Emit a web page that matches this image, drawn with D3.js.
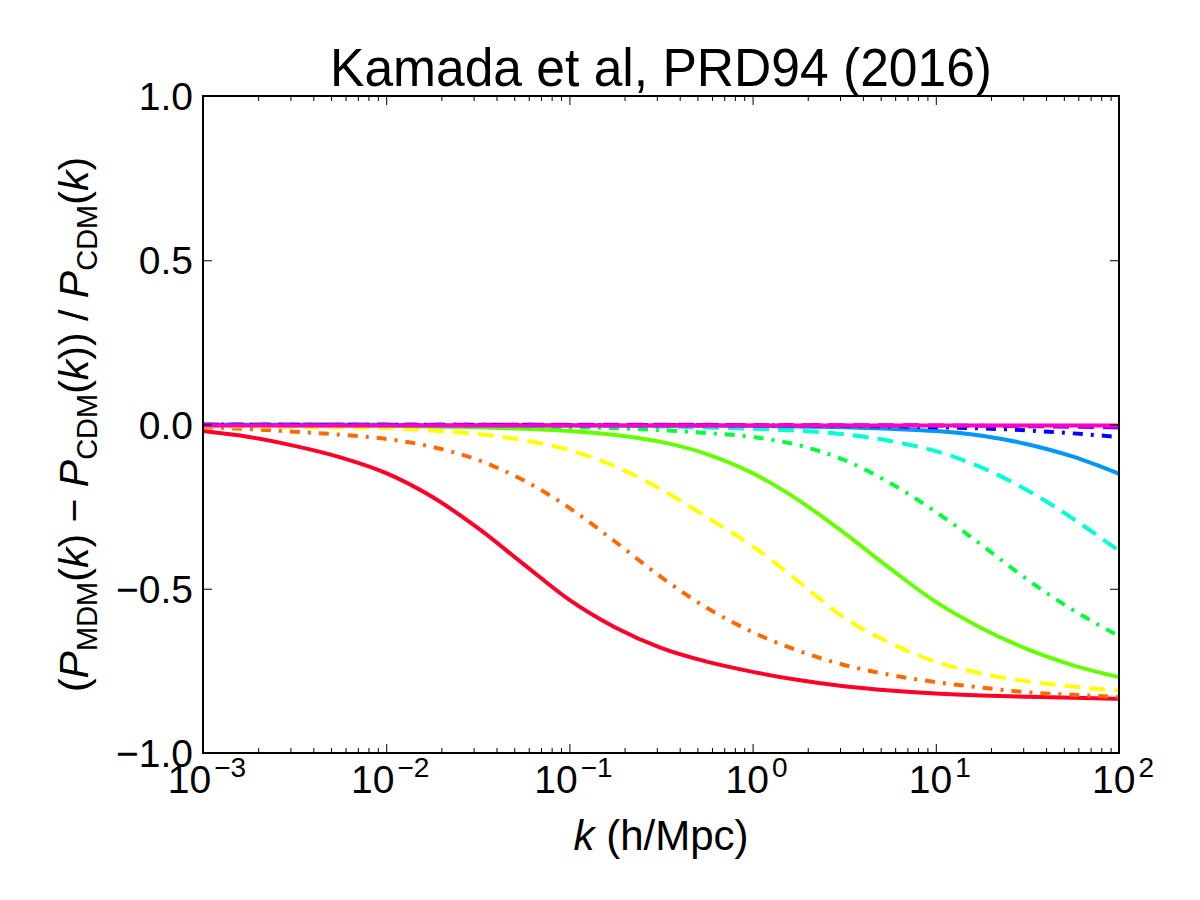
<!DOCTYPE html>
<html>
<head>
<meta charset="utf-8">
<script src="https://cdn.jsdelivr.net/npm/d3@7"></script>
<style>
  body { margin: 0; background: #fff; }
  svg text { font-family: "Liberation Sans", Arial, sans-serif; fill: #000; }
</style>
</head>
<body>
<svg id="chart" width="1200" height="900"></svg>
<script>
const svg = d3.select('#chart')

// k values (h/Mpc), quarter-decade sampling from 1e-3 to 1e2
const kValues = [0.001, 0.00178, 0.00316, 0.00562, 0.01, 0.0178, 0.0316, 0.0562, 0.1, 0.178, 0.316,
                 0.562, 1, 1.78, 3.16, 5.62, 10, 17.8, 31.6, 56.2, 100]

// relative suppression (P_MDM - P_CDM) / P_CDM
const redSolid      = [-0.020, -0.038, -0.065, -0.100, -0.148, -0.220, -0.315, -0.425, -0.534, -0.618, -0.680,
                       -0.722, -0.753, -0.778, -0.797, -0.810, -0.819, -0.825, -0.829, -0.832, -0.835]
const orangeDashDot = [-0.008, -0.014, -0.022, -0.031, -0.044, -0.068, -0.108, -0.170, -0.254, -0.357, -0.464,
                       -0.558, -0.632, -0.689, -0.732, -0.762, -0.784, -0.801, -0.815, -0.823, -0.829]
const yellowDashed  = [-0.005, -0.006, -0.008, -0.009, -0.011, -0.018, -0.029, -0.048, -0.078, -0.128, -0.197,
                       -0.282, -0.370, -0.478, -0.588, -0.665, -0.722, -0.758, -0.782, -0.798, -0.810]
const greenSolid    = [-0.002, -0.002, -0.003, -0.003, -0.004, -0.006, -0.008, -0.013, -0.020, -0.032, -0.053,
                       -0.090, -0.148, -0.230, -0.330, -0.438, -0.540, -0.620, -0.684, -0.733, -0.769]
const greenDashDot  = [-0.001, -0.001, -0.002, -0.002, -0.003, -0.003, -0.004, -0.006, -0.008, -0.011, -0.017,
                       -0.026, -0.038, -0.063, -0.108, -0.178, -0.266, -0.367, -0.472, -0.565, -0.644]
const cyanDashed    = [-0.001, -0.001, -0.001, -0.001, -0.002, -0.002, -0.002, -0.003, -0.003, -0.004, -0.006,
                       -0.009, -0.013, -0.019, -0.030, -0.050, -0.081, -0.131, -0.200, -0.287, -0.385]
const azureSolid    = [-0.001, -0.001, -0.001, -0.001, -0.001, -0.002, -0.002, -0.002, -0.002, -0.003, -0.003,
                       -0.003, -0.004, -0.006, -0.008, -0.013, -0.020, -0.034, -0.060, -0.098, -0.150]
const blueDashDot   = [-0.001, -0.001, -0.001, -0.001, -0.001, -0.001, -0.001, -0.001, -0.002, -0.002, -0.002,
                       -0.002, -0.003, -0.003, -0.004, -0.006, -0.008, -0.012, -0.018, -0.027, -0.038]
const violetDashed  = [-0.001, -0.001, -0.001, -0.001, -0.001, -0.001, -0.001, -0.001, -0.001, -0.001, -0.001,
                       -0.001, -0.002, -0.002, -0.002, -0.002, -0.003, -0.004, -0.005, -0.007, -0.009]
const magentaSolid  = [-0.003, -0.003, -0.003, -0.003, -0.003, -0.003, -0.003, -0.003, -0.003, -0.003, -0.003,
                       -0.003, -0.003, -0.003, -0.003, -0.003, -0.003, -0.003, -0.003, -0.003, -0.003]

const seriesValues = [redSolid, orangeDashDot, yellowDashed, greenSolid, greenDashDot,
                      cyanDashed, azureSolid, blueDashDot, violetDashed, magentaSolid]
const seriesColors = ['#ff0029', '#ff6a00', '#ffff00', '#66ff00', '#00ff3b',
                      '#00ffd5', '#0095ff', '#0a00ff', '#8000ff', '#ff00c4']
const seriesStyles = ['solid', 'dashdot', 'dashed', 'solid', 'dashdot',
                      'dashed', 'solid', 'dashdot', 'dashed', 'solid']

const xMajor = [1e-3, 1e-2, 1e-1, 1e0, 1e1, 1e2]
const xMajorExp = ['\u22123', '\u22122', '\u22121', '0', '1', '2']
const yMajor = [-1, -0.5, 0, 0.5, 1]
const yLabels = ['\u22121.0', '\u22120.5', '0.0', '0.5', '1.0']

const pLeft = 203, pRight = 1119, pTop = 96, pBottom = 753

const x = d3.scaleLog().domain([1e-3, 1e2]).range([pLeft, pRight])
const y = d3.scaleLinear().domain([-1, 1]).range([pBottom, pTop])

// minor ticks 2..9 per decade
const xMinor = []
for (let e = -3; e < 2; e++) for (let m = 2; m <= 9; m++) xMinor.push(m * Math.pow(10, e))

const dashes = { solid: null, dashed: '16,9', dashdot: '10,8,3,8' }

svg.append('clipPath').attr('id', 'clip')
  .append('rect').attr('x', pLeft).attr('y', pTop)
  .attr('width', pRight - pLeft).attr('height', pBottom - pTop)

// zero line
svg.append('line')
  .attr('x1', pLeft).attr('x2', pRight)
  .attr('y1', y(0)).attr('y2', y(0))
  .attr('stroke', '#000').attr('stroke-width', 1)

const line = d3.line()
  .x((d, i) => x(kValues[i]))
  .y(d => y(d))
  .curve(d3.curveMonotoneX)

svg.append('g')
  .attr('clip-path', 'url(#clip)')
  .selectAll('path.curve')
  .data(seriesValues)
  .enter()
  .append('path')
    .attr('class', 'curve')
    .attr('d', d => line(d))
    .attr('fill', 'none')
    .attr('stroke', (d, i) => seriesColors[i])
    .attr('stroke-width', 4)
    .attr('stroke-dasharray', (d, i) => dashes[seriesStyles[i]])

// axes, ticks pointing inward on all four sides
const tickStyle = g => {
  g.select('.domain').remove()
  g.selectAll('.tick line').attr('stroke', '#000').attr('stroke-width', 1)
}

svg.append('g').attr('transform', `translate(0,${pBottom})`)
  .call(d3.axisBottom(x).tickValues(xMajor).tickSize(-9).tickFormat(''))
  .call(tickStyle)
svg.append('g').attr('transform', `translate(0,${pBottom})`)
  .call(d3.axisBottom(x).tickValues(xMinor).tickSize(-5).tickFormat(''))
  .call(tickStyle)
svg.append('g').attr('transform', `translate(0,${pTop})`)
  .call(d3.axisTop(x).tickValues(xMajor).tickSize(-9).tickFormat(''))
  .call(tickStyle)
svg.append('g').attr('transform', `translate(0,${pTop})`)
  .call(d3.axisTop(x).tickValues(xMinor).tickSize(-5).tickFormat(''))
  .call(tickStyle)
svg.append('g').attr('transform', `translate(${pLeft},0)`)
  .call(d3.axisLeft(y).tickValues(yMajor).tickSize(-9).tickFormat(''))
  .call(tickStyle)
svg.append('g').attr('transform', `translate(${pRight},0)`)
  .call(d3.axisRight(y).tickValues(yMajor).tickSize(-9).tickFormat(''))
  .call(tickStyle)

// frame
svg.append('rect')
  .attr('x', pLeft).attr('y', pTop)
  .attr('width', pRight - pLeft).attr('height', pBottom - pTop)
  .attr('fill', 'none').attr('stroke', '#000').attr('stroke-width', 2)

// y tick labels
svg.selectAll('text.ylab')
  .data(yMajor)
  .enter()
  .append('text')
    .attr('class', 'ylab')
    .attr('x', pLeft - 10)
    .attr('y', d => y(d) + 14)
    .attr('text-anchor', 'end')
    .style('font-size', '39px')
    .text((d, i) => yLabels[i])

// x tick labels: 10^n
const xl = svg.selectAll('text.xlab')
  .data(xMajor)
  .enter()
  .append('text')
    .attr('class', 'xlab')
    .attr('x', d => x(d) + 4)
    .attr('y', 793)
    .attr('text-anchor', 'middle')
    .style('font-size', '39px')
xl.append('tspan').text('10')
xl.append('tspan')
  .attr('dx', 3)
  .attr('dy', -16)
  .style('font-size', '28px')
  .text((d, i) => xMajorExp[i])

// x axis label
const xt = svg.append('text')
  .attr('x', (pLeft + pRight) / 2)
  .attr('y', 850)
  .attr('text-anchor', 'middle')
  .style('font-size', '42px')
xt.append('tspan').style('font-style', 'italic').text('k')
xt.append('tspan').text(' (h/Mpc)')

// y axis label
const yt = svg.append('text')
  .attr('transform', `translate(88,${(pTop + pBottom) / 2}) rotate(-90)`)
  .attr('text-anchor', 'middle')
  .style('font-size', '41px')
const parts = [
  ['(', 0], ['P', 'i'], ['MDM', 's'], ['(', 0], ['k', 'i'], [') \u2212 ', 0],
  ['P', 'i'], ['CDM', 's'], ['(', 0], ['k', 'i'], [')) / ', 0],
  ['P', 'i'], ['CDM', 's'], ['(', 0], ['k', 'i'], [')', 0]
]
let shifted = false
parts.forEach(([t, kind]) => {
  const ts = yt.append('tspan').text(t).style('white-space', 'pre')
  if (kind === 'i') ts.style('font-style', 'italic')
  if (kind === 's') {
    ts.style('font-size', '29px').attr('dy', 9)
    shifted = true
  } else if (shifted) {
    ts.attr('dy', -9)
    shifted = false
  }
})

// title
svg.append('text')
  .attr('x', (pLeft + pRight) / 2)
  .attr('y', 86)
  .attr('text-anchor', 'middle')
  .attr('textLength', 662)
  .attr('lengthAdjust', 'spacingAndGlyphs')
  .style('font-size', '54px')
  .text('Kamada et al, PRD94 (2016)')
</script>
</body>
</html>
